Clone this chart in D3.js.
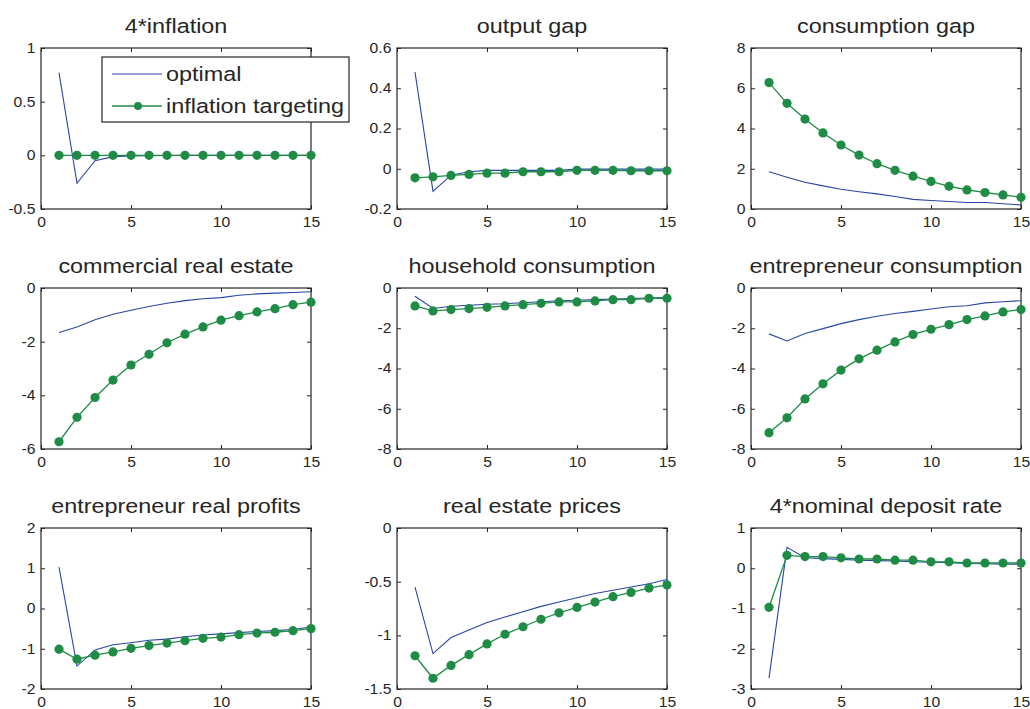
<!DOCTYPE html>
<html>
<head>
<meta charset="utf-8">
<script src="https://cdn.jsdelivr.net/npm/d3@7"></script>
<style>
  body { margin: 0; background: #fff; }
  svg { display: block; }
  text { font-family: "Liberation Sans", Arial, Helvetica, sans-serif; fill: #262626; }
  .line-opt { fill: none; stroke: #2846a8; stroke-width: 1.1; }
  .line-it { fill: none; stroke: #1e8c45; stroke-width: 1.3; }
  .dot-it { fill: #1e8c45; }
</style>
</head>
<body>
<svg class="chart"></svg>
<script>
// horizon (quarters)
const periods = d3.range(1, 16);

const titles = [
  '4*inflation', 'output gap', 'consumption gap',
  'commercial real estate', 'household consumption', 'entrepreneur consumption',
  'entrepreneur real profits', 'real estate prices', '4*nominal deposit rate'
];

const yDomains = [
  [-0.5, 1], [-0.2, 0.6], [0, 8],
  [-6, 0], [-8, 0], [-8, 0],
  [-2, 2], [-1.5, 0], [-3, 1]
];

const yTicks = [
  [-0.5, 0, 0.5, 1], [-0.2, 0, 0.2, 0.4, 0.6], [0, 2, 4, 6, 8],
  [-6, -4, -2, 0], [-8, -6, -4, -2, 0], [-8, -6, -4, -2, 0],
  [-2, -1, 0, 1, 2], [-1.5, -1, -0.5, 0], [-3, -2, -1, 0, 1]
];

const xTicks = [0, 5, 10, 15];

// optimal policy responses
const optimal = [
  [0.77, -0.26, -0.05, -0.012, -0.006, -0.004, -0.002, 0, 0, 0, 0, 0, 0, 0, 0],
  [0.48, -0.112, -0.032, -0.015, -0.008, -0.008, -0.008, -0.008, -0.008, -0.002, -0.002, -0.002, -0.002, -0.002, -0.002],
  [1.85, 1.58, 1.33, 1.15, 0.98, 0.86, 0.75, 0.62, 0.48, 0.42, 0.37, 0.32, 0.32, 0.26, 0.2],
  [-1.66, -1.45, -1.18, -0.98, -0.83, -0.69, -0.57, -0.47, -0.4, -0.36, -0.27, -0.22, -0.19, -0.17, -0.14],
  [-0.41, -1.02, -0.91, -0.86, -0.81, -0.78, -0.73, -0.68, -0.63, -0.61, -0.58, -0.55, -0.53, -0.5, -0.48],
  [-2.28, -2.63, -2.26, -2.02, -1.77, -1.57, -1.4, -1.27, -1.16, -1.04, -0.93, -0.88, -0.74, -0.68, -0.63],
  [1.03, -1.43, -1.03, -0.9, -0.85, -0.79, -0.76, -0.7, -0.66, -0.63, -0.6, -0.57, -0.55, -0.52, -0.46],
  [-0.55, -1.17, -1.02, -0.95, -0.88, -0.83, -0.78, -0.73, -0.69, -0.65, -0.61, -0.58, -0.55, -0.52, -0.48],
  [-2.73, 0.52, 0.26, 0.24, 0.22, 0.2, 0.19, 0.18, 0.16, 0.15, 0.14, 0.12, 0.11, 0.1, 0.1]
];

// inflation targeting responses
const targeting = [
  [0, 0, 0, 0, 0, 0, 0, 0, 0, 0, 0, 0, 0, 0, 0],
  [-0.045, -0.04, -0.033, -0.028, -0.022, -0.022, -0.015, -0.015, -0.015, -0.008, -0.008, -0.008, -0.01, -0.01, -0.01],
  [6.28, 5.25, 4.47, 3.78, 3.18, 2.68, 2.25, 1.92, 1.63, 1.37, 1.13, 0.95, 0.82, 0.7, 0.58],
  [-5.73, -4.82, -4.08, -3.43, -2.87, -2.47, -2.04, -1.72, -1.45, -1.2, -1.03, -0.89, -0.77, -0.62, -0.53],
  [-0.89, -1.14, -1.07, -1.02, -0.96, -0.89, -0.83, -0.76, -0.69, -0.69, -0.64, -0.58, -0.58, -0.51, -0.51],
  [-7.19, -6.45, -5.51, -4.76, -4.08, -3.52, -3.09, -2.68, -2.31, -2.05, -1.82, -1.57, -1.39, -1.19, -1.07],
  [-1.01, -1.26, -1.16, -1.08, -0.99, -0.92, -0.86, -0.8, -0.74, -0.71, -0.65, -0.61, -0.59, -0.55, -0.5],
  [-1.19, -1.4, -1.28, -1.18, -1.08, -0.99, -0.92, -0.85, -0.79, -0.74, -0.69, -0.64, -0.6, -0.56, -0.53],
  [-0.97, 0.32, 0.29, 0.29, 0.26, 0.23, 0.23, 0.2, 0.2, 0.16, 0.16, 0.13, 0.13, 0.13, 0.13]
];

const seriesNames = ['optimal', 'inflation targeting'];

const width = 1030;
const height = 709;
const colLeft = [41, 397, 751];
const rowTop = [48, 288, 528];
const plotW = 270;
const plotH = 161;
const tickLen = 4;
// the source picture is stretched sideways, so text is too
const stretch = 'scale(1.2,1)';
const tickStretch = 'scale(1.12,1)';

const svg = d3.select('.chart')
  .attr('width', width)
  .attr('height', height);

const fmt = (d) => String(d);

titles.forEach((title, i) => {
  const col = i % 3;
  const row = Math.floor(i / 3);

  const x = d3.scaleLinear().domain([0, 15]).range([0, plotW]);
  const y = d3.scaleLinear().domain(yDomains[i]).range([plotH, 0]);

  const g = svg.append('g')
    .attr('transform', 'translate(' + colLeft[col] + ',' + rowTop[row] + ')');

  // axes, ticks pointing inward like matlab
  const styleAxis = (sel) => {
    sel.select('.domain').remove();
    sel.selectAll('line').attr('stroke', '#262626');
    sel.selectAll('text')
      .style('font-size', '14px')
      .attr('fill', '#262626')
      .attr('transform', tickStretch);
  };

  g.append('g')
    .attr('transform', 'translate(0,' + plotH + ')')
    .call(d3.axisBottom(x).tickValues(xTicks).tickFormat(fmt).tickSizeInner(-tickLen).tickSizeOuter(0).tickPadding(8))
    .call(styleAxis);

  g.append('g')
    .call(d3.axisTop(x).tickValues(xTicks).tickFormat('').tickSizeInner(-tickLen).tickSizeOuter(0))
    .call(styleAxis);

  g.append('g')
    .call(d3.axisLeft(y).tickValues(yTicks[i]).tickFormat(fmt).tickSizeInner(-tickLen).tickSizeOuter(0).tickPadding(5))
    .call(styleAxis);

  g.append('g')
    .attr('transform', 'translate(' + plotW + ',0)')
    .call(d3.axisRight(y).tickValues(yTicks[i]).tickFormat('').tickSizeInner(-tickLen).tickSizeOuter(0))
    .call(styleAxis);

  g.append('rect')
    .attr('width', plotW)
    .attr('height', plotH)
    .attr('fill', 'none')
    .attr('stroke', '#262626')
    .attr('stroke-width', 1.2);

  g.append('text')
    .attr('transform', 'translate(' + (plotW / 2) + ',-15) ' + stretch)
    .attr('text-anchor', 'middle')
    .style('font-size', '19.5px')
    .text(title);

  const line = d3.line()
    .x((d, k) => x(periods[k]))
    .y((d) => y(d));

  g.append('path')
    .attr('class', 'line-opt')
    .attr('d', line(optimal[i]));

  g.append('path')
    .attr('class', 'line-it')
    .attr('d', line(targeting[i]));

  g.selectAll('.dot-it')
    .data(targeting[i])
    .enter().append('circle')
    .attr('class', 'dot-it')
    .attr('cx', (d, k) => x(periods[k]))
    .attr('cy', (d) => y(d))
    .attr('r', 4.6);
});

// legend
const legend = svg.append('g').attr('transform', 'translate(102,57)');

legend.append('rect')
  .attr('width', 247)
  .attr('height', 65)
  .attr('fill', '#fff')
  .attr('stroke', '#262626')
  .attr('stroke-width', 1.2);

legend.append('line')
  .attr('class', 'line-opt')
  .attr('x1', 10).attr('x2', 60)
  .attr('y1', 17).attr('y2', 17);

legend.append('line')
  .attr('class', 'line-it')
  .attr('x1', 10).attr('x2', 60)
  .attr('y1', 49).attr('y2', 49);

legend.append('circle')
  .attr('class', 'dot-it')
  .attr('cx', 36).attr('cy', 49).attr('r', 4);

legend.selectAll('.legend-label')
  .data(seriesNames)
  .enter().append('text')
  .attr('class', 'legend-label')
  .attr('transform', (d, k) => 'translate(64,' + (17 + k * 32) + ') ' + stretch)
  .attr('dy', '0.35em')
  .style('font-size', '19.5px')
  .text((d) => d);
</script>
</body>
</html>
